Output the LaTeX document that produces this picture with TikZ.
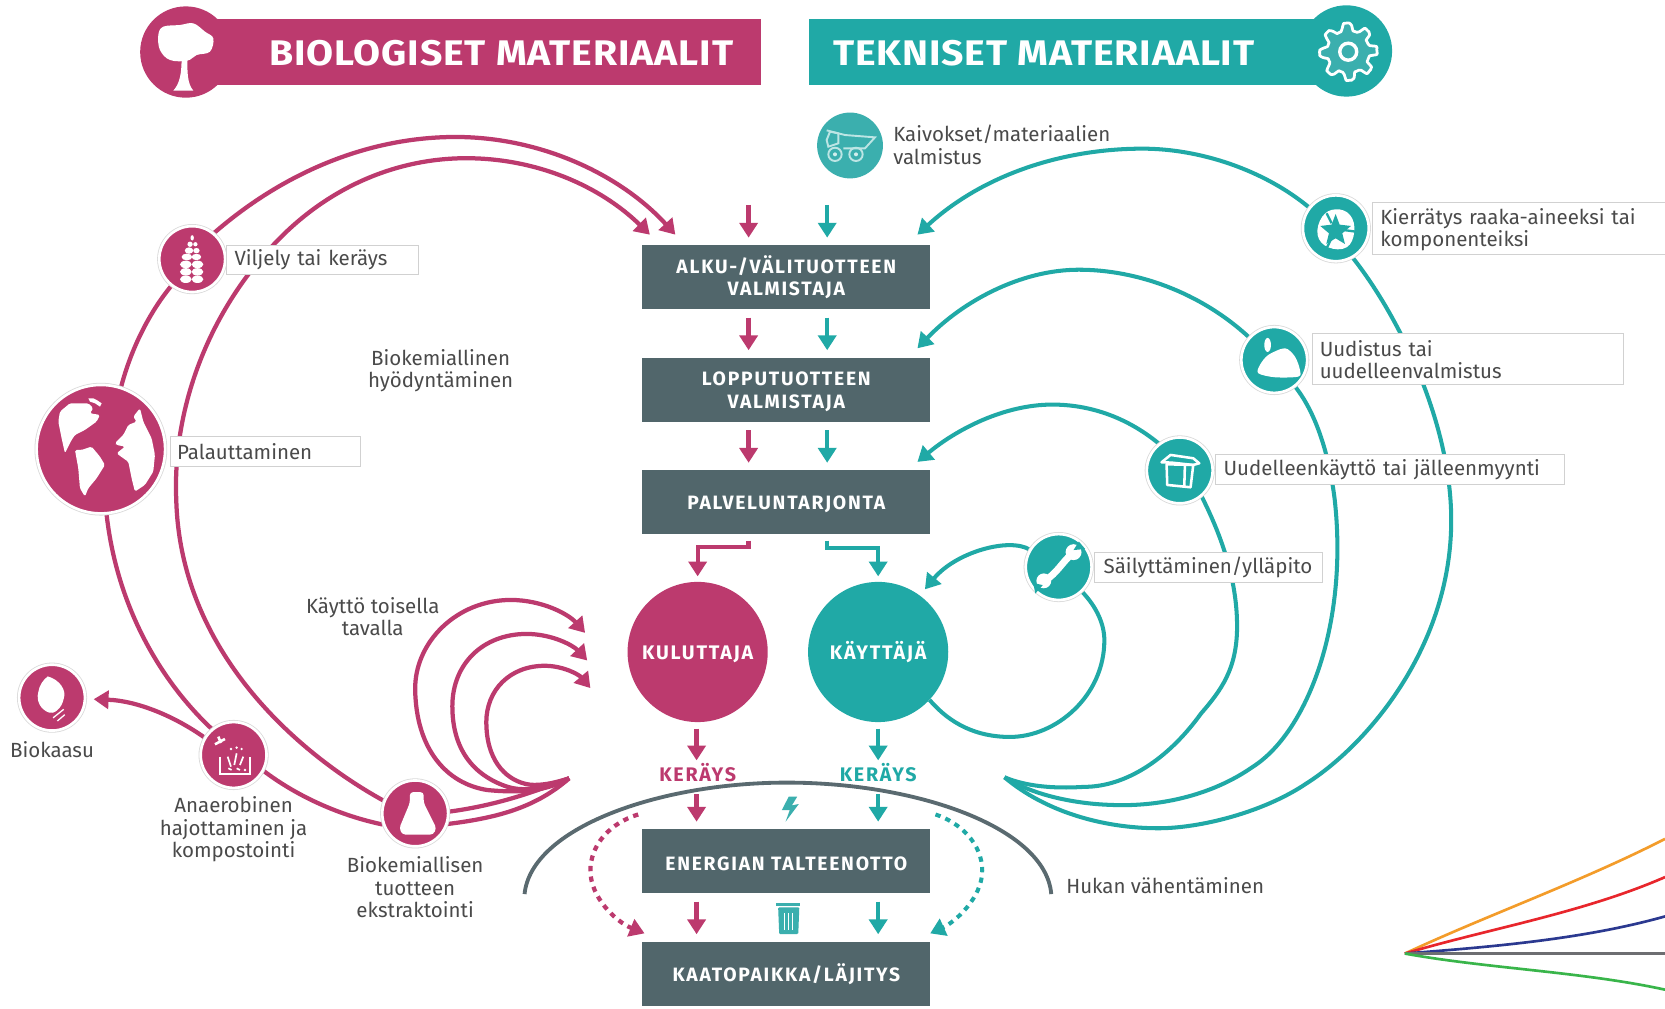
\documentclass[tikz,border=0pt]{standalone}
\usepackage{fontspec}
\setmainfont{Fira Sans}
\newfontfamily\ttlf{Fira Sans}[FakeStretch=1.1,LetterSpace=2.5]
\newfontfamily\boxf{Fira Sans}[LetterSpace=9]
\usetikzlibrary{arrows.meta,calc}
\pgfdeclarelayer{bg}
\pgfsetlayers{bg,main}
\definecolor{mag}{HTML}{BC3A6E}
\definecolor{teal1}{HTML}{20A9A6}
\definecolor{tealb}{HTML}{3BAFAE}
\definecolor{slate}{HTML}{51666B}
\definecolor{arcgrey}{HTML}{5A6A70}
\definecolor{txt}{HTML}{4A4A4A}
\definecolor{strayO}{HTML}{F39C2A}
\definecolor{strayR}{HTML}{E8262C}
\definecolor{strayB}{HTML}{2B3990}
\definecolor{strayG}{HTML}{6D6E71}
\definecolor{strayV}{HTML}{39B54A}
\newcommand{\lft}{\rule{0pt}{17pt}}
\tikzset{
  x=1pt,y=-1pt,
  tipm/.style={-{Triangle[length=14pt,width=17pt]}},
  conm/.style={draw=mag,line width=4pt,tipm},
  cont/.style={draw=teal1,line width=3.8pt,tipm},
  linem/.style={draw=mag,line width=4pt},
  linet/.style={draw=teal1,line width=3.8pt},
  strayline/.style={line width=2.5pt},
  flowbox/.style={rectangle,fill=slate,text=white,minimum width=271pt,inner sep=0pt,align=center,font=\fontsize{18.2}{21.5}\selectfont\boxf\bfseries},
  bigdisc/.style={circle,minimum size=132pt,inner sep=0pt,text=white,font=\fontsize{18.5}{21}\selectfont\boxf\bfseries},
  icon/.style={circle,inner sep=0pt,minimum size=62pt,draw=white,line width=2.5pt,preaction={draw=black!15,line width=4pt}},
  lbox/.style={rectangle,draw=black!18,fill=white,line width=.7pt,inner sep=0pt,anchor=north west,align=left,text=txt,font=\fontsize{19.3}{21}\selectfont},
  captxt/.style={inner sep=0pt,align=center,text=txt,font=\fontsize{19.3}{21}\selectfont},
  titletext/.style={inner sep=0pt,text=white,font=\fontsize{33.5}{36}\selectfont\ttlf\bfseries},
  keray/.style={inner sep=0pt,font=\fontsize{18.5}{21}\selectfont\boxf\bfseries},
}
\begin{document}
\begin{tikzpicture}
\useasboundingbox (0,0) rectangle (1568,950);
\begin{pgfonlayer}{bg}
\fill[white] (0,0) rectangle (1568,950);
\end{pgfonlayer}

% ---- header
\fill[mag] (200,18) rectangle (717,80);
\fill[teal1] (762,18) rectangle (1250,80);
\node[circle,fill=mag,minimum size=86pt,inner sep=0pt] (hdl) at (175,49) {};
\node[circle,fill=teal1,minimum size=86pt,inner sep=0pt] (hdr) at (1268,48) {};
\node[titletext] (tl) at (472,50) {BIOLOGISET MATERIAALIT};
\node[titletext] (tr) at (983,50) {TEKNISET MATERIAALIT};

% ---- flow boxes
\node[flowbox,minimum height=60pt] (b1) at (740.5,261) {\lft ALKU-/VÄLITUOTTEEN\\VALMISTAJA};
\node[flowbox,minimum height=60pt] (b2) at (740.5,367) {\lft LOPPUTUOTTEEN\\VALMISTAJA};
\node[flowbox,minimum height=60pt] (b3) at (740.5,473) {\lft PALVELUNTARJONTA};
\node[flowbox,minimum height=60pt] (b4) at (740.5,811) {\lft ENERGIAN TALTEENOTTO};
\node[flowbox,minimum height=60pt] (b5) at (740.5,917) {\lft KAATOPAIKKA/LÄJITYS};
\node[bigdisc,fill=mag] (kul) at (657,614) {\lft KULUTTAJA};
\node[bigdisc,fill=teal1] (kay) at (827,614) {\lft KÄYTTÄJÄ};
\node[keray,text=mag] (kerm) at (657,728) {KERÄYS};
\node[keray,text=teal1] (kert) at (827,728) {KERÄYS};

% ---- icon discs
\node[icon,fill=mag] (vil) at (181,244) {};
\node[icon,fill=mag,minimum size=121pt] (glob) at (95,423) {};
\node[icon,fill=mag] (ana) at (220,711) {};
\node[icon,fill=mag] (bio) at (49,657) {};
\node[icon,fill=mag] (fla) at (391,766) {};
\node[circle,inner sep=0pt,minimum size=62pt,fill=tealb] (kai) at (800.5,137) {};
\node[icon,fill=teal1] (kie) at (1258,215) {};
\node[icon,fill=teal1] (uud) at (1200,339) {};
\node[icon,fill=teal1] (reu) at (1111,443) {};
\node[icon,fill=teal1] (sai) at (997,534) {};

% ---- label boxes
\node[lbox,minimum width=181pt,minimum height=27pt,text width=166pt] (lv) at (213,231) {Viljely tai keräys};
\node[lbox,minimum width=179pt,minimum height=28pt,text width=166pt] (lp) at (160,411) {Palauttaminen};
\node[lbox,minimum width=290pt,minimum height=49pt,text width=275pt,text height=18pt] (lk) at (1292,190) {Kierrätys raaka-aineeksi tai\\komponenteiksi};
\node[lbox,minimum width=292pt,minimum height=48pt,text width=279pt] (lu) at (1236,314) {Uudistus tai\\uudelleenvalmistus};
\node[lbox,minimum width=329pt,minimum height=28pt,text width=313pt] (lr) at (1144,428) {Uudelleenkäyttö tai jälleenmyynti};
\node[lbox,minimum width=215pt,minimum height=28pt,text width=197pt] (ls) at (1030,520) {Säilyttäminen/ylläpito};

% ---- free captions
\node[captxt] (c1) at (415,349) {Biokemiallinen\\hyödyntäminen};
\node[captxt] (c2) at (351,580.5) {Käyttö toisella\\tavalla};
\node[captxt] (c3) at (49,705.5) {Biokaasu};
\node[captxt] (c4) at (220,781) {Anaerobinen\\hajottaminen ja\\kompostointi};
\node[captxt] (c5) at (391,835.5) {Biokemiallisen\\tuotteen\\ekstraktointi};
\node[captxt,anchor=west,align=left] (c6) at (841,136.5) {Kaivokset/materiaalien\\valmistus};
\node[captxt,anchor=west] (c7) at (1004,834) {Hukan vähentäminen};

% ---- named free ends
\coordinate (mx) at (705,0);
\coordinate (tx) at (779,0);
\coordinate (m0) at (705,193);
\coordinate (t0) at (779,193);
\coordinate (dm) at (656,0);
\coordinate (dt) at (827,0);
\coordinate (tipL1) at (636,221);
\coordinate (tipL2) at (612,221);
\coordinate (tipR1) at (864,221);
\coordinate (tipR2) at (864,328);
\coordinate (tipR3) at (864,435);
\coordinate (tipR4) at (871,555);
\coordinate (fan) at (536,733);
\coordinate (fa) at (551,596);
\coordinate (fb) at (553,622);
\coordinate (fc) at (556,648);
\coordinate (tec) at (946,732);
\coordinate (ha) at (494,842);
\coordinate (hb) at (990,842);
\coordinate (dms) at (601,767);
\coordinate (dmt) at (607,879);
\coordinate (dts) at (881,767);
\coordinate (dtt) at (876,879);
\coordinate (o) at (1323,898);
\coordinate (oO) at (1568,790);
\coordinate (oR) at (1568,826);
\coordinate (oB) at (1568,863);
\coordinate (oG) at (1568,898);
\coordinate (oV) at (1568,932);

\begin{pgfonlayer}{bg}
% left big arcs
\draw[linem] (ana.130) .. controls (150,640) and (110,570) .. (glob.-85);
\draw[linem] (glob.72) .. controls (123,330) and (140,295) .. (vil.-128);
\draw[conm] (vil.50) .. controls (270,160) and (350,129) .. (429,129) .. controls (510,129) and (585,165) .. (tipL1);
\draw[conm] (fla.158) .. controls (290,715) and (170,620) .. (166,471) .. controls (162,380) and (200,290) .. (259,229) .. controls (310,175) and (375,149) .. (439,149) .. controls (505,149) and (565,175) .. (tipL2);
\draw[linem] (ana.-28) .. controls (280,750) and (320,768) .. (fla.199);
\draw[conm,shorten >=7pt] (ana.149) .. controls (165,675) and (130,660) .. (bio);
% fan from the flask
\draw[linem] (fla.3) .. controls (470,758) and (505,745) .. (fan);
\draw[linem] (fla.-18) .. controls (470,770) and (505,760) .. (fan);
\draw[conm] (fan) .. controls (515,745) and (490,747) .. (459,744) .. controls (420,738) and (392,705) .. (391,650) .. controls (390,605) and (430,565) .. (481,565) .. controls (510,565) and (535,578) .. (fa);
\draw[conm] (fan) .. controls (510,742) and (495,746) .. (478,741) .. controls (445,730) and (426,705) .. (426,665) .. controls (426,625) and (455,597) .. (496,597) .. controls (520,597) and (540,608) .. (fb);
\draw[conm] (fan) .. controls (520,738) and (505,741) .. (494,738) .. controls (475,733) and (458,715) .. (458,680) .. controls (458,650) and (480,627) .. (513,627) .. controls (530,627) and (545,635) .. (fc);
% right arcs
\draw[cont] (kie.142) .. controls (1190,160) and (1130,140) .. (1076,140) .. controls (1000,140) and (925,165) .. (tipR1);
\draw[cont] (uud.138) .. controls (1130,275) and (1070,254) .. (1016,254) .. controls (960,254) and (905,285) .. (tipR2);
\draw[cont] (reu.128) .. controls (1060,392) and (1025,381) .. (991,381) .. controls (945,381) and (900,405) .. (tipR3);
\draw[cont] (sai.149) .. controls (950,506) and (900,520) .. (tipR4);
\draw[linet] (kie.-60) .. controls (1315,295) and (1360,385) .. (1366,471) .. controls (1375,600) and (1290,700) .. (1230,738) .. controls (1190,765) and (1130,780) .. (1091,780) .. controls (1040,780) and (985,765) .. (tec);
\draw[linet] (uud) .. controls (1240,390) and (1252,430) .. (1257,471) .. controls (1270,590) and (1230,690) .. (1180,722) .. controls (1140,750) and (1090,760) .. (1046,758) .. controls (1015,757) and (975,750) .. (tec);
\draw[linet] (reu.-50) .. controls (1153,510) and (1165,550) .. (1165,590) .. controls (1165,630) and (1150,650) .. (1131,672) .. controls (1100,715) and (1060,741) .. (1021,741) .. controls (990,743) and (965,740) .. (tec);
\draw[linet] (sai) .. controls (1033,572) and (1040,588) .. (1040,603) .. controls (1040,655) and (995,694) .. (951,694) .. controls (920,694) and (895,682) .. (kay.-43);
% straight flows
\draw[conm,shorten >=7pt] (m0) -- (b1.north -| mx);
\draw[cont,shorten >=7pt] (t0) -- (b1.north -| tx);
\draw[conm,shorten <=8pt,shorten >=7pt] (b1.south -| mx) -- (b2.north -| mx);
\draw[cont,shorten <=8pt,shorten >=7pt] (b1.south -| tx) -- (b2.north -| tx);
\draw[conm,shorten <=8pt,shorten >=7pt] (b2.south -| mx) -- (b3.north -| mx);
\draw[cont,shorten <=8pt,shorten >=7pt] (b2.south -| tx) -- (b3.north -| tx);
\draw[conm,shorten <=6pt,shorten >=5pt] (b3.south -| mx) -- ++(0,12) -| (kul.north);
\draw[cont,shorten <=6pt,shorten >=5pt] (b3.south -| tx) -- ++(0,13) -| (kay.north);
\draw[conm,shorten <=6pt,shorten >=3pt] (kul.south -| dm) -- (kerm.north -| dm);
\draw[cont,shorten <=6pt,shorten >=3pt] (kay.south -| dt) -- (kert.north -| dt);
\draw[conm,shorten <=11pt,shorten >=7pt] (kerm.south -| dm) -- (b4.north -| dm);
\draw[cont,shorten <=11pt,shorten >=7pt] (kert.south -| dt) -- (b4.north -| dt);
\draw[conm,shorten <=8pt,shorten >=7pt] (b4.south -| dm) -- (b5.north -| dm);
\draw[cont,shorten <=8pt,shorten >=7pt] (b4.south -| dt) -- (b5.north -| dt);
% waste arc and dashes
\draw[draw=arcgrey,line width=3.6pt] (ha) .. controls (500,780) and (620,737) .. (741,737) .. controls (865,737) and (985,780) .. (hb);
\draw[conm,dash pattern=on 5pt off 5pt] (dms) .. controls (575,775) and (556,795) .. (556,820) .. controls (556,845) and (580,868) .. (dmt);
\draw[cont,dash pattern=on 5pt off 5pt] (dts) .. controls (905,775) and (925,795) .. (925,820) .. controls (925,845) and (900,868) .. (dtt);
% stray coloured lines, bottom right
\draw[strayline,draw=strayO] (o) .. controls (1400,862) and (1490,830) .. (oO);
\draw[strayline,draw=strayR] (o) .. controls (1400,875) and (1490,860) .. (oR);
\draw[strayline,draw=strayB] (o) .. controls (1400,892) and (1490,885) .. (oB);
\draw[strayline,draw=strayG] (o) -- (oG);
\draw[strayline,draw=strayV] (o) .. controls (1400,912) and (1490,915) .. (oV);
\end{pgfonlayer}

% ---- icon: tree (zoom 5 coords)
\begin{scope}[shift={(122.4,0)},x=.3139pt,y=-.3139pt]
\fill[white] plot[smooth cycle,tension=.6] coordinates {(85,105) (100,80) (150,75) (190,70) (225,95) (250,115) (240,155) (200,165) (172,182) (120,180) (90,150)};
\fill[white] (155,170) .. controls (155,220) and (150,250) .. (130,272) -- (190,272) .. controls (172,250) and (172,220) .. (172,170) -- cycle;
\end{scope}
% ---- icon: gear
\begin{scope}[shift={(1269.7,48.7)}]
\draw[white,line width=2.6pt,fill=tealb,line join=round] plot[smooth cycle,samples=65,domain=0:355,variable=\t] (\t:{23.5+3.5*max(-1,min(1,2.5*cos(8*\t+22)))});
\draw[white,line width=3.2pt] (0,0) circle (8);
\end{scope}
% ---- icon: globe (zoom 6 coords)
\begin{scope}[shift={(23.5,353.1)},x=.3139pt,y=-.3139pt]
\fill[white,rounded corners=1.5pt] (105,110) -- (135,85) -- (190,85) -- (205,100) -- (195,115) -- (225,120) -- (215,140) -- (180,165) -- (150,180) -- (140,195) -- (120,235) -- (110,190) -- (100,140) -- cycle;
\fill[white] (190,70) -- (205,70) -- (215,75) -- (230,85) -- (225,95) -- (210,85) -- (195,80) -- cycle;
\fill[white,rounded corners=1.5pt] (150,225) -- (170,225) -- (200,215) -- (225,245) -- (240,270) -- (215,310) -- (190,340) -- (180,365) -- (165,340) -- (160,280) -- cycle;
\fill[white,rounded corners=1.5pt] (345,100) -- (355,140) -- (380,190) -- (390,240) -- (385,290) -- (360,330) -- (330,350) -- (320,310) -- (310,260) -- (295,250) -- (275,235) -- (300,215) -- (275,210) -- (270,205) -- (295,180) -- (310,150) -- (335,140) -- (325,125) -- cycle;
\end{scope}
% ---- icon: wheat
\begin{scope}[white]
\fill (181,224) ellipse (1.6 and 2.5);
\fill (179,230) ellipse (2.5 and 2.5); \fill (184,230) ellipse (2 and 2);
\fill (178,236) ellipse (4 and 3); \fill (185,236) ellipse (3 and 2.5);
\fill (176,242) ellipse (5 and 3.2); \fill (185,242) ellipse (4.5 and 3);
\fill (175,249) ellipse (5.5 and 3.5); \fill (186,249) ellipse (5.5 and 3.5);
\fill (175,256) ellipse (5.5 and 3.5); \fill (186,256) ellipse (5.5 and 3.5);
\fill (175,263) ellipse (5.5 and 3.5); \fill (186,263) ellipse (5.5 and 3.5);
\end{scope}
% ---- icon: biogas shell
\fill[white] (45,637) .. controls (56,640) and (63,650) .. (60,658) .. controls (58,668) and (50,673) .. (46,671) .. controls (38,668) and (34,660) .. (36,652) .. controls (37,645) and (41,640) .. (45,637) -- cycle;
\draw[white,line width=1.2pt] (50,676) -- (60,668) (54,679) -- (61,673);
% ---- icon: flask
\fill[white,rounded corners=3pt] (386,746) -- (399,746) -- (399,756) -- (411,780) -- (408,786) -- (379,786) -- (376,780) -- (386,756) -- cycle;
% ---- icon: composting (zoom 12 coords)
\begin{scope}[shift={(183.6,673.3)},x=.3139pt,y=-.3139pt]
\draw[white,line width=2pt] (75,125) -- (75,178) -- (165,178) -- (165,125);
\draw[white,line width=2.4pt] (60,88) -- (90,72) (70,65) -- (78,84);
\draw[white,line width=1.6pt] (98,125) -- (108,155) (125,115) -- (118,150) (145,125) -- (135,150) (100,160) -- (110,165) (125,160) -- (135,165);
\fill[white] (108,102) circle (4) (125,98) circle (4) (140,102) circle (4) (150,165) circle (4);
\end{scope}
% ---- icon: truck (zoom 8 coords)
\begin{scope}[shift={(762.8,98.9)},x=.3139pt,y=-.3139pt,draw=white!70!teal1,line width=1.8pt]
\draw (50,76) -- (105,90) -- (195,97) -- (165,130) -- (100,130);
\draw (60,80) -- (85,85) -- (85,115) -- (55,125) -- (50,105) -- cycle;
\draw (75,148) circle (20) (138,148) circle (20);
\fill[white!80!teal1] (75,148) circle (6) (138,148) circle (6);
\end{scope}
% ---- icon: recycling (zoom 9 coords)
\begin{scope}[shift={(1219.5,178.9)},x=.3139pt,y=-.3139pt]
\fill[white] plot[smooth cycle,tension=.7] coordinates {(122,58) (165,75) (178,125) (155,172) (100,172) (68,135) (82,80)};
\fill[teal1] (122,72) -- (134,104) -- (168,108) -- (142,130) -- (150,162) -- (122,145) -- (94,162) -- (102,130) -- (76,108) -- (110,104) -- cycle;
\draw[teal1,line width=2.2pt] (95,70) -- (110,100) (182,125) -- (145,120) (95,175) -- (112,140);
\end{scope}
% ---- icon: refurbish (zoom 10 coords)
\begin{scope}[shift={(1163,301.3)},x=.3139pt,y=-.3139pt]
\fill[white] plot[smooth cycle,tension=.5] coordinates {(70,160) (75,135) (100,105) (150,85) (180,110) (195,150) (190,170) (120,172)};
\fill[white] (98,75) ellipse (10 and 21);
\end{scope}
% ---- icon: box (zoom 11 coords)
\begin{scope}[shift={(1073.5,404.9)},x=.3139pt,y=-.3139pt,line width=2.4pt]
\draw[white,line join=round] (80,103) -- (82,165) -- (152,172) -- (160,105) -- cycle;
\draw[white,line join=round] (65,97) -- (92,75) -- (160,85) -- (178,100) -- (160,105) -- (95,98) -- cycle;
\draw[white] (135,105) -- (133,172);
\end{scope}
% ---- icon: wrench
\begin{scope}[white]
\draw[line width=6.5pt] (985,546) .. controls (995,540) and (1000,530) .. (1009,522);
\fill (1011,520) circle (7.5);
\fill (983,547) circle (7);
\fill[teal1] (1011,518) -- (1016,510) -- (1022,517) -- cycle;
\fill[teal1] (982,551) -- (975,559) -- (973,549) -- cycle;
\end{scope}
% ---- bolt and bin (zoom 3 coords)
\begin{scope}[shift={(0,470.9)},x=.4985pt,y=-.3139pt]
\fill[tealb] (1490,890) -- (1477,930) -- (1492,930) -- (1484,965) -- (1509,912) -- (1496,916) -- (1506,890) -- cycle;
\fill[tealb,rounded corners=1pt] (1470,1222) -- (1510,1222) -- (1508,1302) -- (1472,1302) -- cycle;
\fill[tealb] (1466,1208) rectangle (1512,1217);
\draw[white,line width=1pt] (1482,1240) -- (1482,1290) (1490,1240) -- (1490,1290) (1498,1240) -- (1498,1290);
\end{scope}
\end{tikzpicture}
\end{document}
